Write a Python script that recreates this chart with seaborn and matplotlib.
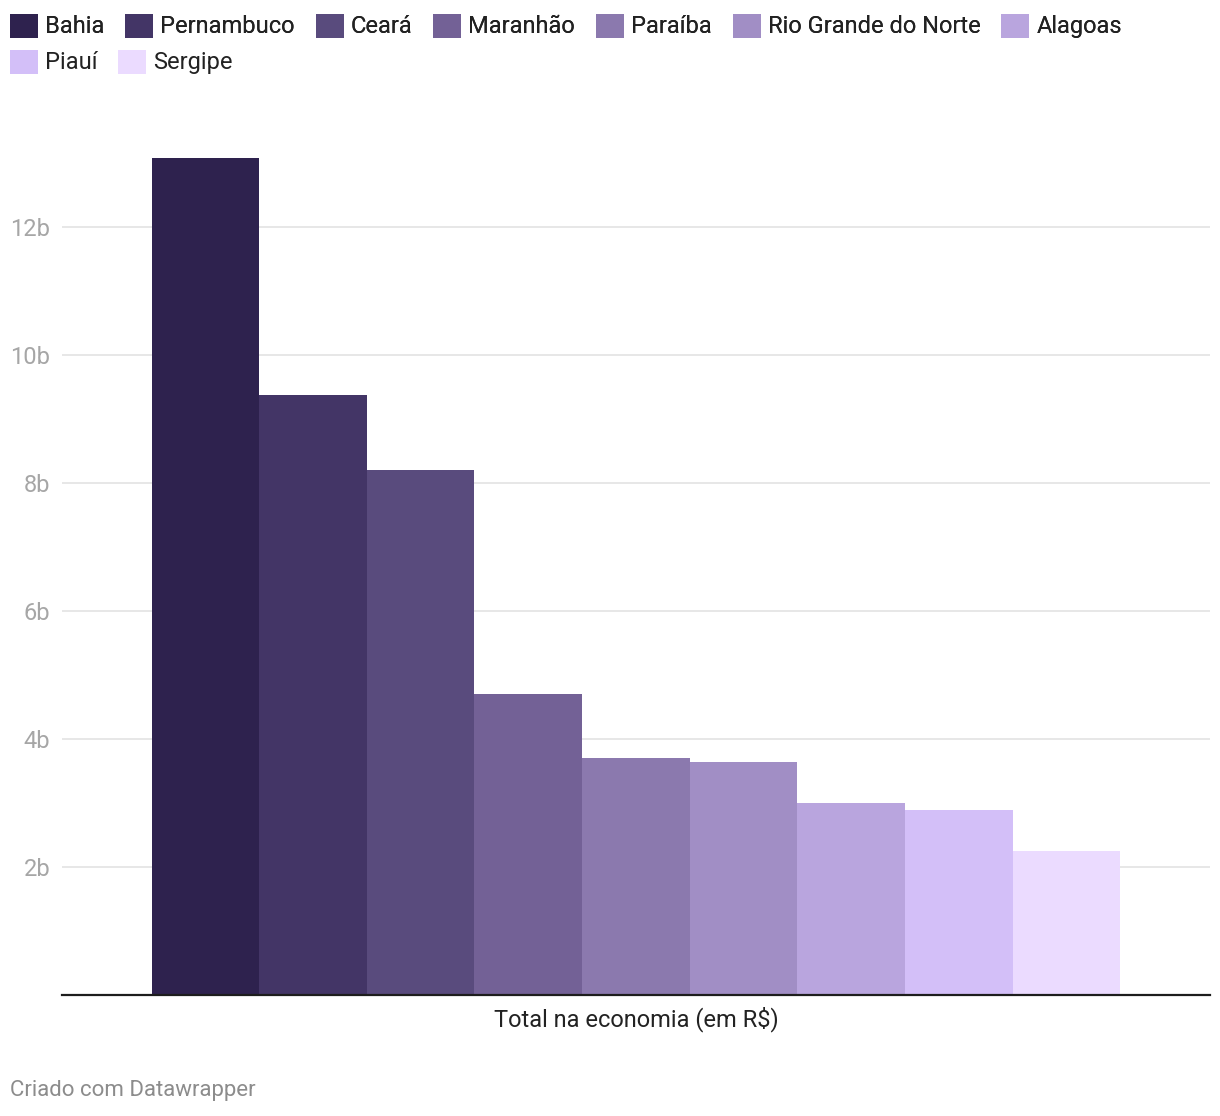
import matplotlib.pyplot as plt
import pandas as pd
import seaborn as sns
from matplotlib.ticker import FuncFormatter


ESTADOS = [
    "Bahia", "Pernambuco", "Ceará", "Maranhão", "Paraíba",
    "Rio Grande do Norte", "Alagoas", "Piauí", "Sergipe",
]
VALORES_BI = [13.09, 9.38, 8.20, 4.70, 3.70, 3.64, 3.00, 2.89, 2.25]
CATEGORIA = "Total na economia (em R\\$)"
CORES = [
    "#2e224e", "#433566", "#594b7d", "#736196", "#8b79ae",
    "#a18ec5", "#b9a5de", "#d3bff8", "#ebdbff",
]
YTICKS = [2, 4, 6, 8, 10, 12]


def main() -> None:
    sns.set_theme(style="white")
    plt.rcParams["font.family"] = ["Roboto", "DejaVu Sans"]

    df = pd.DataFrame({
        "indicador": [CATEGORIA] * len(ESTADOS),
        "estado": ESTADOS,
        "valor": VALORES_BI,
    })

    fig = plt.figure(figsize=(12.2, 11.16), dpi=100)
    ax = fig.add_axes([0.0508, 0.1084, 0.941, 0.7796])

    sns.barplot(
        data=df,
        x="indicador",
        y="valor",
        hue="estado",
        hue_order=ESTADOS,
        palette=CORES,
        width=0.844,
        gap=0,
        saturation=1,
        linewidth=0,
        ax=ax,
    )
    handles, labels = ax.get_legend_handles_labels()
    ax.get_legend().remove()

    ax.set_xlim(-0.5, 0.5)
    ax.set_ylim(0, 13.6)
    ax.set_yticks(YTICKS)
    ax.yaxis.set_major_formatter(FuncFormatter(lambda v, _: f"{v:g}b"))
    ax.set_xlabel("")
    ax.set_ylabel("")
    ax.grid(axis="y", color="#e5e5e5", linewidth=1.3)
    ax.set_axisbelow(True)
    for side in ["top", "right", "left"]:
        ax.spines[side].set_visible(False)
    ax.spines["bottom"].set_color("#1d1d1d")
    ax.spines["bottom"].set_linewidth(1.6)
    ax.tick_params(axis="y", length=0, pad=8.5, labelsize=17, labelcolor="#a6a6a6")
    ax.tick_params(axis="x", length=0, pad=8, labelsize=17, labelcolor="#222222")

    # two legend rows, each flowing on its own like the original
    legend_kw = dict(
        loc="center left",
        frameon=False,
        fontsize=17,
        handlelength=1.19,
        handleheight=1.19,
        handletextpad=0.3,
        columnspacing=0.88,
        borderpad=0,
        borderaxespad=0,
        labelcolor="#222222",
    )
    row1 = fig.legend(handles[:7], labels[:7], ncol=7,
                      bbox_to_anchor=(0.008, 1 - 26 / 1116), **legend_kw)
    fig.add_artist(row1)
    fig.legend(handles[7:], labels[7:], ncol=2,
               bbox_to_anchor=(0.008, 1 - 62 / 1116), **legend_kw)

    fig.text(0.008, 0.023, "Criado com Datawrapper", fontsize=16,
             color="#8c8c8c", ha="left", va="center")

    fig.savefig("out.png", dpi=100)
    plt.close(fig)


if __name__ == "__main__":
    main()
